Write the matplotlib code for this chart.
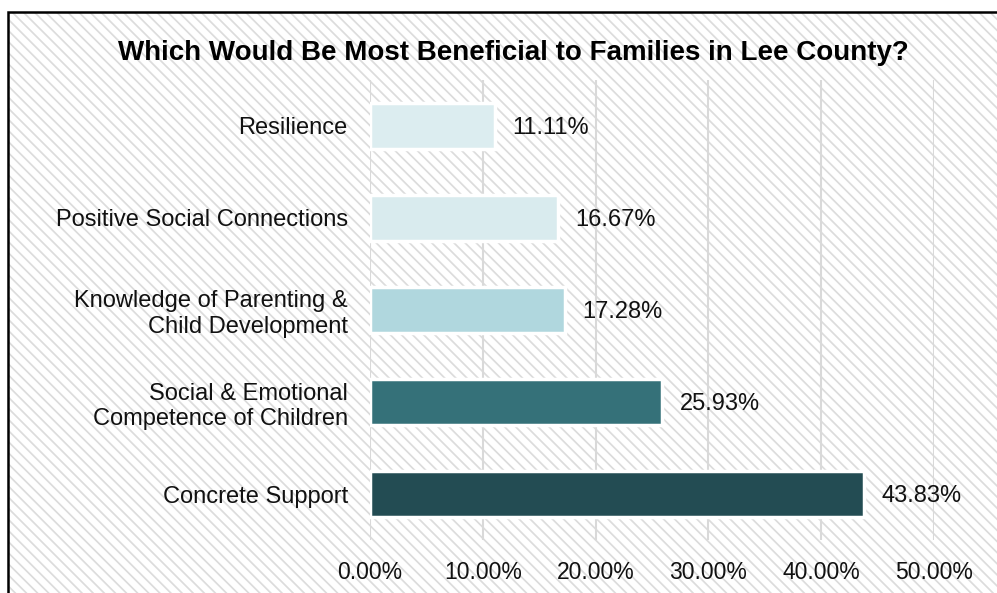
import matplotlib.pyplot as plt
from matplotlib.patches import Rectangle

plt.rcParams['font.family'] = ['Liberation Sans', 'DejaVu Sans']
plt.rcParams['hatch.linewidth'] = 1.25

categories = ["Resilience", "Positive Social Connections",
              "Knowledge of Parenting &\nChild Development",
              "Social & Emotional\nCompetence of Children",
              "Concrete Support"]
values = [11.11, 16.67, 17.28, 25.93, 43.83]
colors = ['#dcedf0', '#d9ebee', '#b0d7de', '#357179', '#234c53']
xticks = [0, 10, 20, 30, 40, 50]

fig = plt.figure(figsize=(9.97, 5.93), dpi=100)
fig.patch.set_facecolor('white')

# hatched background, then black frame on top of it
x0 = 8 / 997
y1 = (593 - 12) / 593
bg = Rectangle((x0, -0.05), 1.0, y1 + 0.05, transform=fig.transFigure,
               facecolor='white', edgecolor='#dcdcdc', linewidth=0,
               hatch='\\\\\\', zorder=-3)
fig.add_artist(bg)
frame = Rectangle((x0, -0.05), 1.0, y1 + 0.05, transform=fig.transFigure,
                  facecolor='none', edgecolor='black', linewidth=1.8,
                  zorder=-2)
fig.add_artist(frame)

ax = fig.add_axes([370 / 997, 53 / 593, 564 / 997, 460 / 593])
ax.set_facecolor('none')

ypos = list(range(len(categories)))
ax.barh(ypos, values, height=0.5, color=colors, edgecolor='white',
        linewidth=2.5, zorder=3)
for y, v in zip(ypos, values):
    ax.text(v + 1.5, y + 0.02, f"{v:.2f}%", va='center', ha='left',
            fontsize=17, color='#111111', zorder=4)

ax.set_ylim(len(categories) - 0.5, -0.5)
ax.set_xlim(0, 50)
ax.set_yticks(ypos)
ax.set_yticklabels(categories, fontsize=17, linespacing=1.2)
ax.set_xticks(xticks)
ax.set_xticklabels([f"{t:.2f}%" for t in xticks], fontsize=16.5)
ax.tick_params(axis='both', length=0, colors='#111111')
ax.tick_params(axis='y', pad=16)
ax.tick_params(axis='x', pad=15)
ax.xaxis.grid(True, color='#d9d9d9', linewidth=1.5, zorder=1)
ax.set_axisbelow(True)
for s in ax.spines.values():
    s.set_visible(False)

fig.text(513 / 997, 1 - 53 / 593,
         "Which Would Be Most Beneficial to Families in Lee County?",
         ha='center', va='center', fontsize=20, fontweight='bold')

fig.savefig('out.png', dpi=100)
